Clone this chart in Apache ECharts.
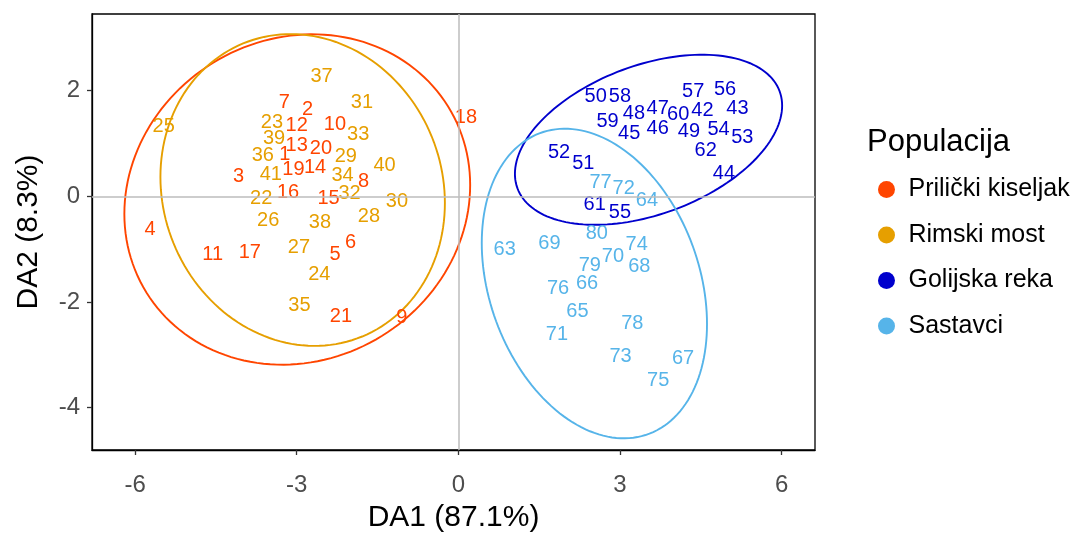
<!DOCTYPE html>
<html>
<head>
<meta charset="utf-8">
<script src="https://cdn.jsdelivr.net/npm/echarts@6/dist/echarts.min.js"></script>
<style>html,body{margin:0;padding:0;background:#fff;}#chart{width:1075px;height:533px;}</style>
</head>
<body>
<div id="chart"></div>
<script>
// ---- data ----
const populations = ['Prilički kiseljak', 'Rimski most', 'Golijska reka', 'Sastavci'];
const popColors = ['#FF4500', '#E69F00', '#0000CD', '#56B4E9'];

const pkId = [1,2,3,4,5,6,7,8,9,10,11,12,13,14,15,16,17,18,19,20,21];
const pkX = [-3.22,-2.80,-4.08,-5.72,-2.29,-2.00,-3.23,-1.76,-1.05,-2.29,-4.56,-3.00,-3.00,-2.66,-2.41,-3.16,-3.87,0.14,-3.06,-2.55,-2.18];
const pkY = [0.79,1.64,0.37,-0.63,-1.10,-0.88,1.77,0.28,-2.30,1.36,-1.10,1.34,0.96,0.54,-0.04,0.08,-1.07,1.50,0.51,0.90,-2.27];

const rmId = [22,23,24,25,26,27,28,29,30,31,32,33,34,35,36,37,38,39,40,41];
const rmX = [-3.66,-3.46,-2.58,-5.47,-3.53,-2.96,-1.66,-2.09,-1.14,-1.79,-2.02,-1.86,-2.15,-2.95,-3.63,-2.54,-2.57,-3.42,-1.37,-3.48];
const rmY = [-0.04,1.39,-1.48,1.33,-0.46,-0.96,-0.38,0.75,-0.09,1.78,0.06,1.17,0.40,-2.06,0.78,2.27,-0.50,1.09,0.58,0.42];

const grId = [42,43,44,45,46,47,48,49,50,51,52,53,54,55,56,57,58,59,60,61,62];
const grX = [4.53,5.18,4.93,3.17,3.70,3.70,3.26,4.28,2.55,2.32,1.87,5.27,4.83,3.00,4.95,4.36,3.00,2.77,4.08,2.53,4.59];
const grY = [1.62,1.66,0.44,1.19,1.28,1.66,1.57,1.22,1.88,0.62,0.83,1.12,1.26,-0.31,2.02,1.98,1.89,1.42,1.55,-0.16,0.87];

const saId = [63,64,65,66,67,68,69,70,71,72,73,74,75,76,77,78,79,80];
const saX = [0.86,3.50,2.21,2.39,4.17,3.36,1.69,2.87,1.83,3.07,3.01,3.31,3.71,1.85,2.64,3.23,2.44,2.57];
const saY = [-1.00,-0.08,-2.18,-1.65,-3.07,-1.33,-0.90,-1.14,-2.61,0.15,-3.03,-0.91,-3.49,-1.75,0.27,-2.40,-1.31,-0.71];

// 95% ellipses (centre and squared half-extents / cross term, data units)
const ellCx  = [-2.99, -2.89, 3.53, 2.525];
const ellCy  = [-0.06, 0.12, 1.07, -1.65];
const ellSxx = [10.3, 6.97, 6.15, 4.37];
const ellSxy = [0.875, -0.65, 1.6, -1.6];
const ellSyy = [9.77, 8.70, 2.59, 8.58];

const xTicks = [-6, -3, 0, 3, 6];
const yTicks = [-4, -2, 0, 2];
const xLimits = [-6.8, 6.62];
const yLimits = [-4.8, 3.45];

// ---- build ----
const FONT = '"Liberation Sans", Arial, sans-serif';
const groups = [[pkId, pkX, pkY], [rmId, rmX, rmY], [grId, grX, grY], [saId, saX, saY]];

const series = [];
series.push({
  name: 'zero', type: 'scatter', data: [], silent: true, z: 1,
  markLine: {
    silent: true, symbol: 'none', animation: false,
    label: { show: false },
    lineStyle: { color: '#bdbdbd', width: 1.5, type: 'solid' },
    data: [{ xAxis: 0 }, { yAxis: 0 }]
  }
});

groups.forEach(function (g, k) {
  const ids = g[0], xs = g[1], ys = g[2];
  const data = ids.map(function (id, i) { return { name: String(id), value: [xs[i], ys[i]] }; });
  series.push({
    name: populations[k], type: 'scatter', symbol: 'circle', symbolSize: 0, z: 3,
    itemStyle: { color: popColors[k], opacity: 1 },
    label: {
      show: true, position: 'inside', formatter: '{b}',
      color: popColors[k], fontSize: 20, fontFamily: FONT, opacity: 1
    },
    emphasis: { disabled: true },
    data: data
  });
});

populations.forEach(function (p, k) {
  series.push({
    name: p + ' ellipse', type: 'custom', z: 2, silent: true,
    data: [[ellCx[k], ellCy[k]]],
    renderItem: function (params, api) {
      const L11 = Math.sqrt(ellSxx[k]);
      const L21 = ellSxy[k] / L11;
      const L22 = Math.sqrt(ellSyy[k] - L21 * L21);
      const pts = [];
      const n = 160;
      for (let i = 0; i <= n; i++) {
        const t = 2 * Math.PI * i / n;
        const c = Math.cos(t), s = Math.sin(t);
        pts.push(api.coord([ellCx[k] + L11 * c, ellCy[k] + L21 * c + L22 * s]));
      }
      return { type: 'polyline', shape: { points: pts }, style: { stroke: popColors[k], fill: null, lineWidth: 1.9 } };
    }
  });
});

const chart = echarts.init(document.getElementById('chart'), null, { renderer: 'canvas' });
chart.setOption({
  animation: false,
  backgroundColor: '#fff',
  title: {
    text: 'Populacija', left: 862, top: 122,
    textStyle: { fontSize: 31, fontWeight: 'normal', color: '#000', fontFamily: FONT }
  },
  legend: {
    orient: 'vertical', left: 873, top: 172,
    data: populations.map(function (p) { return { name: p, icon: 'circle', itemStyle: { opacity: 1 } }; }),
    itemWidth: 34, itemHeight: 17, itemGap: 20.5,
    selectedMode: false,
    textStyle: { fontSize: 25, color: '#000', fontFamily: FONT, lineHeight: 25 }
  },
  grid: {
    left: 92, right: 260, top: 14, bottom: 83,
    containLabel: false, outerBoundsMode: 'none',
    show: true, borderColor: '#000', borderWidth: 1.3, backgroundColor: 'transparent'
  },
  xAxis: {
    type: 'value', min: xLimits[0], max: xLimits[1],
    name: 'DA1 (87.1%)', nameLocation: 'middle', nameGap: 53,
    nameTextStyle: { fontSize: 30, color: '#000', fontFamily: FONT },
    axisLine: { show: true, onZero: false, lineStyle: { color: '#000', width: 1.3 } },
    axisTick: { show: true, customValues: xTicks, length: 5, lineStyle: { color: '#333', width: 1.3 } },
    axisLabel: { customValues: xTicks, fontSize: 24, color: '#4D4D4D', margin: 23, fontFamily: FONT },
    splitLine: { show: false }
  },
  yAxis: {
    type: 'value', min: yLimits[0], max: yLimits[1],
    name: 'DA2 (8.3%)', nameLocation: 'middle', nameGap: 48, nameRotate: 90,
    nameTextStyle: { fontSize: 30, color: '#000', fontFamily: FONT },
    axisLine: { show: true, onZero: false, lineStyle: { color: '#000', width: 1.3 } },
    axisTick: { show: true, customValues: yTicks, length: 5, lineStyle: { color: '#333', width: 1.3 } },
    axisLabel: { customValues: yTicks, fontSize: 24, color: '#4D4D4D', margin: 12, fontFamily: FONT },
    splitLine: { show: false }
  },
  series: series
});
</script>
</body>
</html>
